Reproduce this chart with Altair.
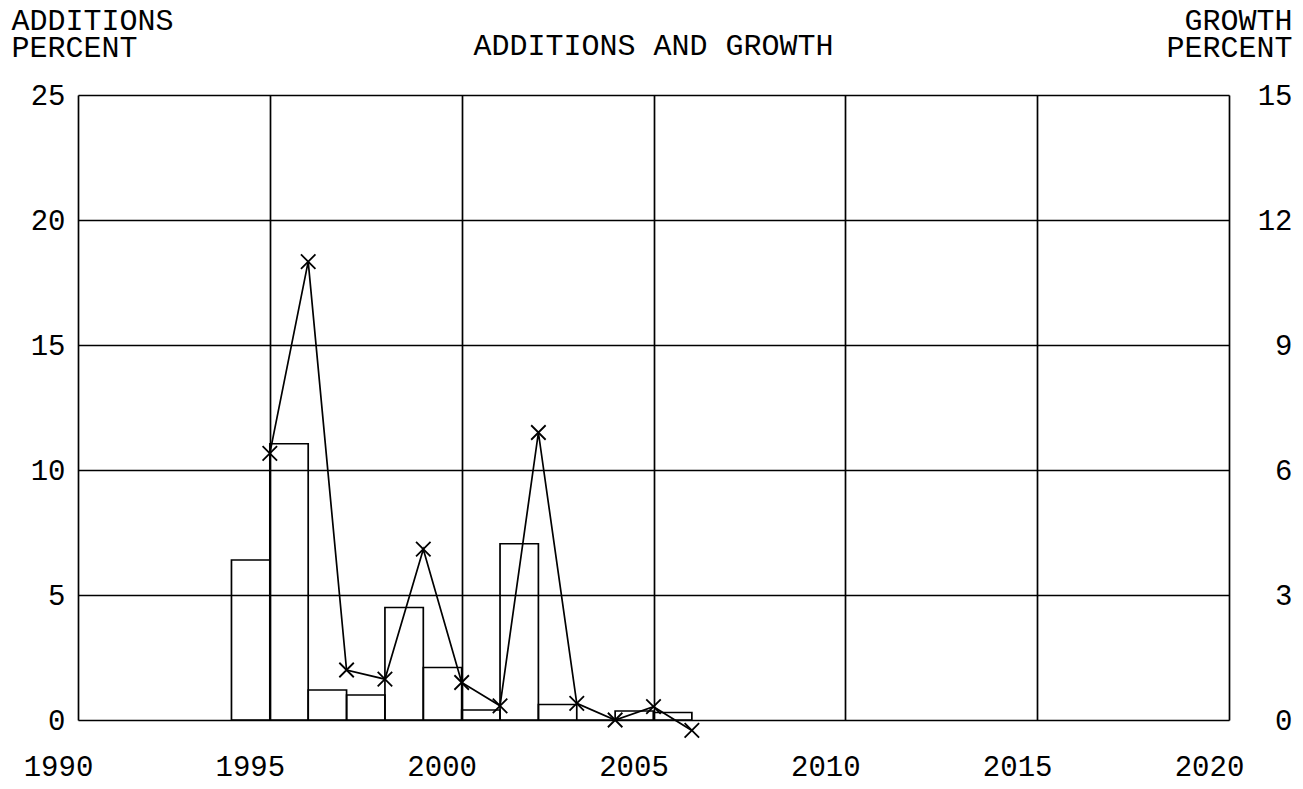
import altair as alt
import pandas as pd

# ---- data ----
bar_start = [1994, 1995, 1996, 1997, 1998, 1999, 2000, 2001, 2002, 2003, 2004, 2005]
bar_end = [1995, 1996, 1997, 1998, 1999, 2000, 2001, 2002, 2003, 2004, 2005, 2006]
additions = [6.4, 11.05, 1.2, 1.0, 4.5, 2.1, 0.4, 7.05, 0.62, 0.0, 0.36, 0.3]

growth_years = [1995, 1996, 1997, 1998, 1999, 2000, 2001, 2002, 2003, 2004, 2005, 2006]
growth = [6.4, 11.0, 1.2, 0.98, 4.1, 0.9, 0.34, 6.9, 0.4, 0.0, 0.32, -0.25]

x_ticks = [1990, 1995, 2000, 2005, 2010, 2015, 2020]
left_ticks = [0, 5, 10, 15, 20, 25]
right_ticks = [0, 3, 6, 9, 12, 15]

chart_title = ["ADDITIONS AND GROWTH"]

bars_df = pd.DataFrame({"start": bar_start, "end": bar_end, "additions": additions})
line_df = pd.DataFrame({"year": growth_years, "growth": growth})
title_df = pd.DataFrame({"t": chart_title})

FONT = "Liberation Mono"
W, H = 1151, 625
LW = 1.7

xscale = alt.Scale(domain=[1990, 2020], nice=False, zero=False)
xaxis = alt.Axis(
    values=x_ticks, format="d", title=None, grid=True, gridColor="black",
    gridWidth=LW, gridOpacity=1, ticks=False, domain=False,
    labelFont=FONT, labelFontSize=29, labelColor="black", labelFlush=False,
    labelBaseline="alphabetic", labelPadding=55, labelOffset=-20,
)

left_axis = alt.Axis(
    values=left_ticks, grid=True, gridColor="black", gridWidth=LW, gridOpacity=1,
    ticks=False, domain=False, labelFont=FONT, labelFontSize=29, labelColor="black",
    labelPadding=13,
    title=["ADDITIONS", "PERCENT"], titleAngle=0, titleAlign="left",
    titleBaseline="alphabetic", titleX=-67, titleY=-66, titleFont=FONT,
    titleFontSize=30, titleFontWeight="normal", titleColor="black", titleLineHeight=27,
)

right_axis = alt.Axis(
    values=right_ticks, grid=False, ticks=False, domain=False, orient="right",
    labelFont=FONT, labelFontSize=29, labelColor="black",
    labelAlign="right", labelPadding=63,
    title=["GROWTH", "PERCENT"], titleAngle=0, titleAlign="right",
    titleBaseline="alphabetic", titleX=63, titleY=-66, titleFont=FONT,
    titleFontSize=30, titleFontWeight="normal", titleColor="black", titleLineHeight=27,
)

bars = alt.Chart(bars_df).mark_rect(
    fillOpacity=0, stroke="black", strokeWidth=LW
).encode(
    x=alt.X("start:Q", scale=xscale, axis=xaxis),
    x2="end:Q",
    y=alt.Y("additions:Q", scale=alt.Scale(domain=[0, 25], nice=False), axis=left_axis),
    y2=alt.datum(0),
)

xpath = "M-1,-1L1,1M-1,1L1,-1"
gscale = alt.Scale(domain=[0, 15], nice=False)

gbase = alt.Chart(line_df).encode(
    x=alt.X("year:Q", scale=xscale),
    y=alt.Y("growth:Q", scale=gscale, axis=right_axis),
)
line = gbase.mark_line(color="black", strokeWidth=LW, clip=False)
points = gbase.mark_point(
    shape=xpath, size=210, stroke="black", strokeWidth=1.8, filled=False, opacity=1, clip=False
)
growth_layer = alt.layer(line, points)

title_text = alt.Chart(title_df).mark_text(
    font=FONT, fontSize=30, color="black", align="center", baseline="alphabetic", clip=False
).encode(
    text="t:N",
    x=alt.value(W / 2),
    y=alt.value(-40),
)

chart = alt.layer(bars, growth_layer, title_text).resolve_scale(y="independent").properties(
    width=W, height=H,
    autosize=alt.AutoSizeParams(type="none"),
    padding={"left": 70, "top": 87, "right": 65, "bottom": 61},
).configure_view(stroke="black", strokeWidth=LW).configure(background="white")

chart.save("out.html", embed_options={"renderer": "svg", "actions": False})
